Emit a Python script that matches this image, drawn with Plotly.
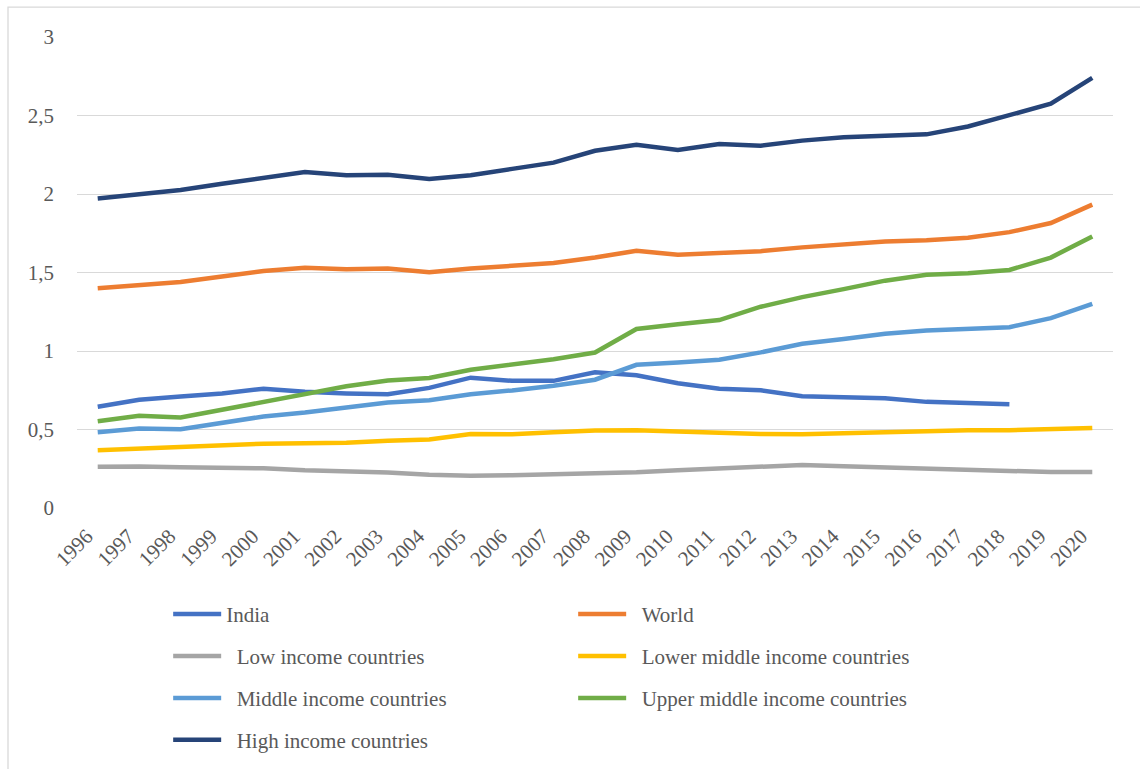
import plotly.graph_objects as go

years = [str(y) for y in range(1996, 2021)]

india = [0.645, 0.69, 0.71, 0.73, 0.76, 0.74, 0.73, 0.725, 0.765, 0.83, 0.81, 0.81, 0.865, 0.845, 0.795, 0.76, 0.75,
         0.712, 0.706, 0.699, 0.676, 0.671, 0.661, None, None]
world = [1.40, 1.42, 1.44, 1.475, 1.51, 1.53, 1.52, 1.525, 1.502, 1.525, 1.54, 1.56, 1.595, 1.638, 1.613, 1.628, 1.636,
         1.66, 1.68, 1.697, 1.705, 1.722, 1.757, 1.815, 1.932]
low_income = [0.262, 0.265, 0.26, 0.26, 0.253, 0.24, 0.236, 0.226, 0.211, 0.205, 0.209, 0.213, 0.219, 0.228, 0.241,
              0.25, 0.262, 0.274, 0.266, 0.259, 0.255, 0.247, 0.239, 0.229, 0.23]
lower_middle = [0.368, 0.38, 0.39, 0.4, 0.41, 0.412, 0.415, 0.428, 0.437, 0.472, 0.47, 0.482, 0.493, 0.495, 0.486,
                0.475, 0.471, 0.47, 0.476, 0.487, 0.493, 0.495, 0.495, 0.505, 0.51]
middle_income = [0.483, 0.506, 0.502, 0.543, 0.583, 0.608, 0.642, 0.672, 0.686, 0.725, 0.749, 0.779, 0.817, 0.912,
                 0.927, 0.944, 0.991, 1.046, 1.076, 1.11, 1.13, 1.139, 1.152, 1.209, 1.3]
upper_middle = [0.552, 0.588, 0.576, 0.626, 0.675, 0.722, 0.775, 0.812, 0.828, 0.88, 0.911, 0.947, 0.99, 1.14,
                1.17, 1.197, 1.282, 1.343, 1.394, 1.448, 1.485, 1.495, 1.516, 1.595, 1.73]
high_income = [1.972, 2.0, 2.025, 2.065, 2.105, 2.14, 2.12, 2.122, 2.095, 2.12, 2.16, 2.2, 2.275, 2.313, 2.28,
               2.318, 2.308, 2.34, 2.362, 2.37, 2.38, 2.43, 2.5, 2.575, 2.74]

series = [
    ("India", india, "#4472C4", "legend"),
    ("\u00a0\u00a0World", world, "#ED7D31", "legend"),
    ("\u00a0\u00a0Low income countries", low_income, "#A5A5A5", "legend2"),
    ("\u00a0\u00a0Lower middle income countries", lower_middle, "#FFC000", "legend2"),
    ("\u00a0\u00a0Middle income countries", middle_income, "#5B9BD5", "legend3"),
    ("\u00a0\u00a0Upper middle income countries", upper_middle, "#70AD47", "legend3"),
    ("\u00a0\u00a0High income countries", high_income, "#264478", "legend4"),
]

fig = go.Figure()
for name, vals, color, lg in series:
    fig.add_trace(go.Scatter(
        x=years, y=vals, name=name, mode="lines",
        line=dict(color=color, width=4.5),
        legend=lg, connectgaps=False,
    ))

font_family = "'Liberation Serif', 'Times New Roman', Times, serif"
txt = "#595959"

def leg(y):
    return dict(
        orientation="h", x=0.088, xanchor="left", y=y, yanchor="middle",
        entrywidth=342, entrywidthmode="pixels", itemwidth=48,
        font=dict(family=font_family, size=21, color=txt),
        bgcolor="rgba(0,0,0,0)", borderwidth=0,
    )

fig.update_layout(
    width=1140, height=769,
    margin=dict(l=77, r=27, t=37, b=260.5, autoexpand=False),
    paper_bgcolor="white", plot_bgcolor="white",
    separators=",.",
    font=dict(family=font_family, color=txt),
    showlegend=True,
    legend=leg(-0.2259),
    legend2=leg(-0.3149),
    legend3=leg(-0.404),
    legend4=leg(-0.493),
    xaxis=dict(
        type="category", range=[-0.5, 24.5], showgrid=False, zeroline=False,
        showline=False, ticks="", tickangle=-45, ticklabelstandoff=11, ticklabelshift=-11,
        tickfont=dict(family=font_family, size=21, color=txt),
    ),
    yaxis=dict(
        range=[0, 3], dtick=0.5, tick0=0, showgrid=True, gridcolor="#D9D9D9", gridwidth=1.3,
        zeroline=False, showline=False, ticks="", ticklabelstandoff=22,
        tickfont=dict(family=font_family, size=21, color=txt),
    ),
    shapes=[dict(
        type="rect", xref="paper", yref="paper",
        x0=-0.0666, x1=1.05, y0=-0.7, y1=1.0636,
        line=dict(color="#D9D9D9", width=1.3), fillcolor="rgba(0,0,0,0)", layer="below",
    )],
)

fig.write_html("out.html")
